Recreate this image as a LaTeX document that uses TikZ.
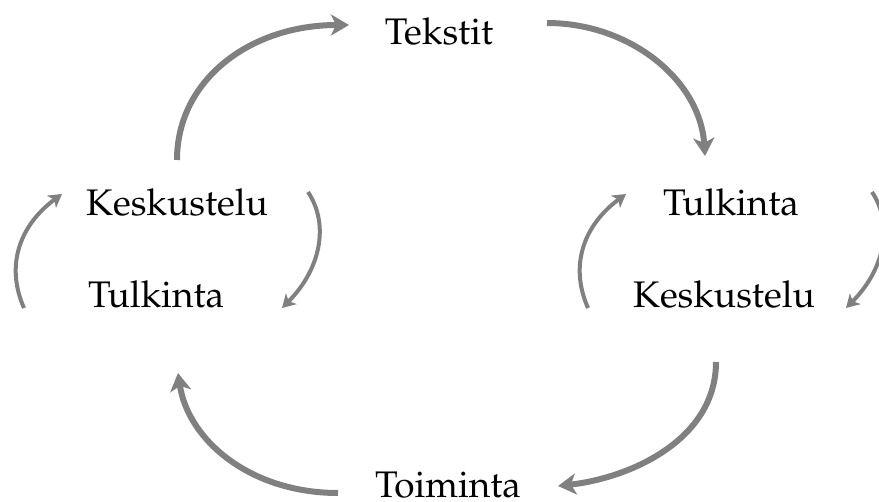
\documentclass[tikz,border=0pt]{standalone}
\usepackage[T1]{fontenc}
\usepackage{mathpazo}
\usetikzlibrary{arrows.meta}
\definecolor{arrgray}{HTML}{808080}
\tikzset{
  lbl/.style={font=\fontsize{37}{40}\selectfont, inner sep=0pt, text=black},
  bigarr/.style={draw=arrgray, line width=6pt, -{Stealth[length=18pt,width=21pt,inset=5pt]}},
  smallarr/.style={draw=arrgray, line width=4pt, -{Stealth[length=13pt,width=15pt,inset=3.5pt]}}
}
\begin{document}
\begin{tikzpicture}[x=1pt,y=-1pt]
\useasboundingbox (0,0) rectangle (879,502);
% labels
\node[lbl, anchor=base] (tek) at (439,45) {Tekstit};
\node[lbl, anchor=base west] (lkes) at (86,216) {Keskustelu};
\node[lbl, anchor=base west] (ltul) at (88,308) {Tulkinta};
\node[lbl, anchor=base] (rtul) at (731,216) {Tulkinta};
\node[lbl, anchor=base] (rkes) at (724,308) {Keskustelu};
\node[lbl, anchor=base] (toi) at (448,498) {Toiminta};
% end points
\coordinate (a1s) at (177,160);
\coordinate (a1e) at (349,25);
\coordinate (a2s) at (547,23);
\coordinate (a2e) at (705,156);
\coordinate (a3s) at (716,362);
\coordinate (a3e) at (558,486);
\coordinate (a4s) at (338,493);
\coordinate (a4e) at (178,373);
\coordinate (l1s) at (24,308);
\coordinate (l1e) at (62,194);
\coordinate (l2s) at (308,192);
\coordinate (l2e) at (282,308);
\coordinate (r1s) at (588,308);
\coordinate (r1e) at (626,194);
\coordinate (r2s) at (872,192);
\coordinate (r2e) at (846,308);
% big arrows
\draw[bigarr] (a1s) .. controls (177,80) and (250,25) .. (a1e);
\draw[bigarr] (a2s) .. controls (630,23) and (700,80) .. (a2e);
\draw[bigarr] (a3s) .. controls (716,440) and (630,478) .. (a3e);
\draw[bigarr] (a4s) .. controls (250,493) and (188,440) .. (a4e);
% small arrows
\draw[smallarr] (l1s) .. controls (5,265) and (20,225) .. (l1e);
\draw[smallarr] (l2s) .. controls (330,225) and (320,270) .. (l2e);
\draw[smallarr] (r1s) .. controls (569,265) and (584,225) .. (r1e);
\draw[smallarr] (r2s) .. controls (894,225) and (884,270) .. (r2e);
\end{tikzpicture}
\end{document}
